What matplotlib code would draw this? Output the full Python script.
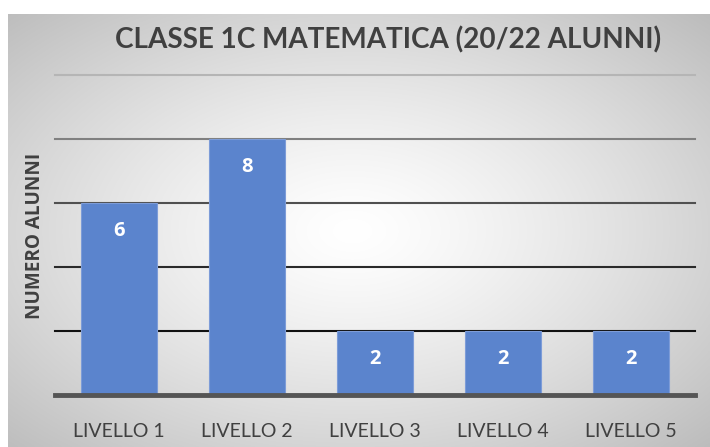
import numpy as np
import matplotlib
matplotlib.use("Agg")
import matplotlib.pyplot as plt

categories = ["LIVELLO 1", "LIVELLO 2", "LIVELLO 3", "LIVELLO 4", "LIVELLO 5"]
values = [6, 8, 2, 2, 2]
grid_levels = [2, 4, 6, 8, 10]
title = "CLASSE 1C MATEMATICA (20/22 ALUNNI)"
ylabel = "NUMERO ALUNNI"

W, H = 710, 447
fig = plt.figure(figsize=(W / 100, H / 100), dpi=100)
fig.patch.set_facecolor("white")

# gradient background panel
bg = fig.add_axes([8 / W, 0, 702 / W, 433 / H])
ny, nx = 300, 480
yy, xx = np.mgrid[0:ny, 0:nx]
cx, cy = nx * 0.49, ny * 0.5
r = np.sqrt(((xx - cx) / (nx / 2)) ** 2 + ((yy - cy) / (ny / 2)) ** 2) / np.sqrt(2)
val = 1 - 0.26 * np.clip(r, 0, 1.2) ** 1.3
img = np.dstack([val, val, val])
bg.imshow(img, aspect="auto", extent=[0, 1, 0, 1], interpolation="bilinear")
bg.set_axis_off()

ax = fig.add_axes([55 / W, (H - 395) / H, 640 / W, 320 / H])
ax.set_facecolor("none")
x = np.arange(len(categories))
ax.set_xlim(-0.5, len(categories) - 0.5)
ax.set_ylim(0, 10)

grid_colors = ["#111111", "#2a2a2a", "#505050", "#808080", "#b5b5b5"]
for lvl, c in zip(grid_levels, grid_colors):
    ax.axhline(lvl, color=c, lw=1.5, zorder=1, clip_on=False)
ax.axhline(0, color="#555555", lw=3.5, zorder=4, clip_on=False)

bars = ax.bar(x, values, width=0.6, color="#5B84CD", edgecolor="#7d9cd8",
              linewidth=0.8, zorder=2)
for xi, v in zip(x, values):
    ax.annotate(str(v), (xi, v), xytext=(0, -28), textcoords="offset pixels",
                ha="center", va="center", color="white", fontsize=14.5,
                fontweight="bold", family="Open Sans", zorder=5)

ax.set_xticks(x)
ax.set_xticklabels(categories, fontsize=14, color="#404040", family="Lato")
ax.tick_params(axis="x", length=0, pad=20)
ax.set_yticks([])
for s in ax.spines.values():
    s.set_visible(False)

fig.text(388 / W, 1 - 40 / H, title, ha="center", va="center", fontsize=20.1,
         fontweight="bold", color="#404040", family="Lato")
fig.text(35 / W, 1 - 236 / H, ylabel, ha="center", va="center", rotation=90,
         fontsize=13.6, fontweight="bold", color="#404040", family="Open Sans")

fig.savefig("out.png", dpi=100)
